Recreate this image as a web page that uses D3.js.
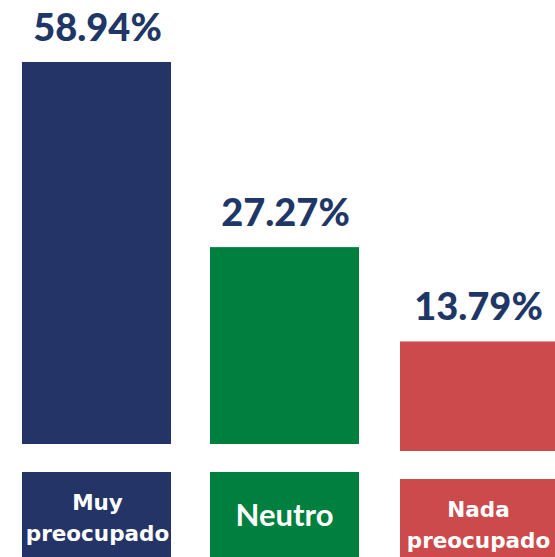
<!DOCTYPE html>
<html><head><meta charset="utf-8">
<script src="https://cdn.jsdelivr.net/npm/d3@7"></script>
<style>html,body{margin:0;padding:0;background:#fff;}svg{display:block;}</style>
</head><body>
<div id="chart"></div>
<script>
const categories = ["Muy preocupado", "Neutro", "Nada preocupado"];
const labelLines = [["Muy", "preocupado"], ["Neutro"], ["Nada", "preocupado"]];
const values = [58.94, 27.27, 13.79];
const valueLabels = ["58.94%", "27.27%", "13.79%"];
const colors = ["#243466", "#007F3F", "#CC4A4B"];

const W = 555, H = 557;
const svg = d3.select("#chart").append("svg").attr("width", W).attr("height", H);

const x = d3.scaleOrdinal().domain(categories).range([22, 210, 400]);
const bw = d3.scaleOrdinal().domain(categories).range([149, 149, 155]);
const drop = d3.scaleOrdinal().domain(categories).range([0, 0, 7]);
const baseline = 444;
const h = d3.scalePow().exponent(0.86).domain([0, 58.94]).range([0, 382]);

const g = svg.selectAll("g.bar").data(categories).enter().append("g").attr("class", "bar");

g.append("rect")
  .attr("x", d => x(d))
  .attr("y", (d, i) => baseline + drop(d) - h(values[i]))
  .attr("width", d => bw(d))
  .attr("height", (d, i) => h(values[i]))
  .attr("fill", (d, i) => colors[i]);

g.append("text")
  .attr("x", d => x(d) + bw(d) / 2 + 1)
  .attr("y", (d, i) => baseline + drop(d) - h(values[i]) - 21)
  .attr("text-anchor", "middle")
  .attr("font-family", "Lato, sans-serif")
  .attr("font-weight", 900)
  .attr("font-size", 38)
  .attr("fill", "#1F3767")
  .text((d, i) => valueLabels[i]);

// category boxes
g.append("rect")
  .attr("x", d => x(d))
  .attr("y", d => 472 + drop(d))
  .attr("width", d => bw(d))
  .attr("height", d => H - 472 - drop(d))
  .attr("fill", (d, i) => colors[i]);

g.each(function(d, i) {
  const lines = labelLines[i];
  const t = d3.select(this).append("text")
    .attr("text-anchor", "middle")
    .attr("fill", "#fff")
    .attr("font-weight", "bold");
  if (lines.length === 1) {
    t.attr("font-family", "Lato, sans-serif").attr("font-size", 31)
     .attr("x", x(d) + bw(d) / 2).attr("y", 526 + drop(d)).text(lines[0]);
  } else {
    t.attr("font-family", "'DejaVu Sans', sans-serif").attr("font-size", 21.5);
    lines.forEach((ln, j) => {
      t.append("tspan").attr("x", x(d) + bw(d) / 2 + 1).attr("y", 510 + drop(d) + j * 30.5).text(ln);
    });
  }
});
</script>
</body></html>
